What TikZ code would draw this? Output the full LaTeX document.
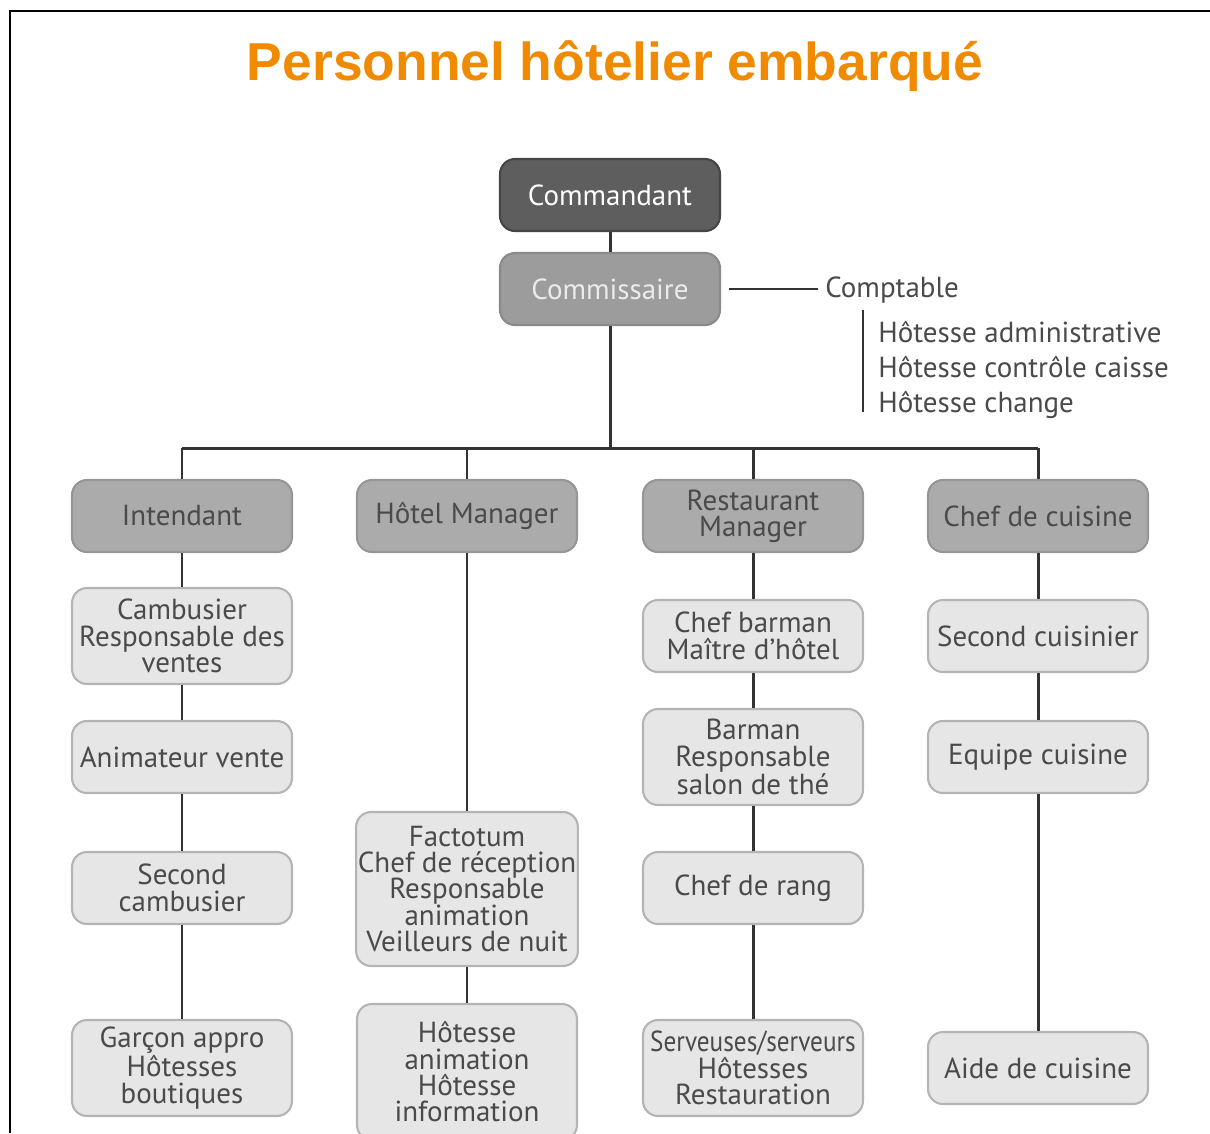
\documentclass[tikz,border=0pt]{standalone}
\usepackage{fontspec}
\usepackage{graphicx}
\usepackage{tikz}
\usetikzlibrary{positioning}
\newfontfamily\boxfont{PT Sans}
\newfontfamily\titlefont{Liberation Sans}
\definecolor{orgtitle}{HTML}{F08A00}
\definecolor{darkbox}{HTML}{5E5E5E}
\definecolor{darkrim}{HTML}{454545}
\definecolor{midbox}{HTML}{9C9C9C}
\definecolor{midrim}{HTML}{8A8A8A}
\definecolor{headbox}{HTML}{ABABAB}
\definecolor{headrim}{HTML}{969696}
\definecolor{lightbox}{HTML}{E6E6E6}
\definecolor{lightrim}{HTML}{B4B4B4}
\definecolor{boxtext}{HTML}{4A4A4A}
\definecolor{linkgray}{HTML}{333333}

\begin{document}
\begin{tikzpicture}[
  x=0.02cm, y=-0.02cm,
  every node/.style={font=\boxfont\fontsize{16.5}{15}\selectfont},
  role/.style={rounded corners=3mm,line width=1.2pt,minimum width=4.4cm,
    minimum height=1.44cm,align=center,inner sep=1pt},
  topbox/.style={role,draw=darkrim,fill=darkbox,text=white},
  subbox/.style={role,draw=midrim,fill=midbox,text=white!92!black},
  headbox/.style={role,draw=headrim,fill=headbox,text=boxtext},
  staffbox/.style={role,draw=lightrim,fill=lightbox,text=boxtext},
  link/.style={draw=linkgray,line width=1.7pt}
]
\useasboundingbox (0,0) rectangle (1210,1133);
\draw[line width=1.4pt] (10,1133) -- (10,11) -- (1210,11);

\node[font=\titlefont\bfseries\fontsize{30.4}{32}\selectfont,text=orgtitle] (title) at (615,66) {Personnel hôtelier embarqué};

% direction
\node[topbox] (cmdt) at (610,195) {Commandant};
\node[subbox] (commis) at (610,289) {Commissaire};
\draw[link] (cmdt) -- (commis);

% comptabilite
\node[anchor=base west,text=boxtext,inner sep=4pt] (compt) at (818,297) {Comptable};
\draw[link,line width=1.5pt] ([xshift=8*0.02cm]commis.east) -- (compt.west |- commis.east);
\coordinate (barT) at (863,310);
\coordinate (barB) at (863,412);
\draw[link,line width=1.5pt] (barT) -- (barB);
\node[anchor=west,align=left,text=boxtext,inner sep=0pt,
  font=\boxfont\fontsize{16.5}{19.8}\selectfont] (hotadm) at (878,370)
  {Hôtesse administrative\\Hôtesse contrôle caisse\\Hôtesse change};

% chefs de service
\node[headbox] (intd) at (182,516) {Intendant};
\node[headbox] (hotm) at (467,516) {Hôtel Manager};
\node[headbox] (restm) at (753,516) {Restaurant\\Manager};
\node[headbox] (chefc) at (1038,516) {Chef de cuisine};

\coordinate (busL) at (182,448);
\coordinate (busR) at (1038,448);
\draw[link] (commis) -- (commis |- busL);
\draw[link] (busL) -- (busR);
\foreach \n in {intd,hotm,restm,chefc}
  \draw[link] (\n.north) -- (\n.north |- busL);

% intendance
\node[staffbox,minimum height=1.92cm] (camb) at (182,636) {Cambusier\\Responsable des\\ventes};
\node[staffbox] (anim) at (182,757) {Animateur vente};
\node[staffbox] (scamb) at (182,888) {Second\\cambusier};
\node[staffbox,minimum height=1.92cm] (garc) at (182,1068) {Garçon appro\\Hôtesses\\boutiques};
\draw[link] (intd) -- (camb);
\draw[link] (camb) -- (anim);
\draw[link] (anim) -- (scamb);
\draw[link] (scamb) -- (garc);

% hotel
\node[staffbox,minimum height=3.08cm] (fact) at (467,889) {Factotum\\Chef de réception\\Responsable\\animation\\Veilleurs de nuit};
\node[staffbox,minimum height=2.72cm] (hotan) at (467,1072) {Hôtesse\\animation\\Hôtesse\\information};
\draw[link] (hotm) -- (fact);
\draw[link] (fact) -- (hotan);

% restaurant
\node[staffbox] (barm) at (753,636) {Chef barman\\Maître d’hôtel};
\node[staffbox,minimum height=1.92cm] (barr) at (753,757) {Barman\\Responsable\\salon de thé};
\node[staffbox] (rang) at (753,888) {Chef de rang};
\node[staffbox,minimum height=1.92cm] (serv) at (753,1068) {\scalebox{0.87}[1]{Serveuses/serveurs}\\Hôtesses\\Restauration};
\draw[link] (restm) -- (barm);
\draw[link] (barm) -- (barr);
\draw[link] (barr) -- (rang);
\draw[link] (rang) -- (serv);

% cuisine
\node[staffbox] (scuis) at (1038,636) {Second cuisinier};
\node[staffbox] (equip) at (1038,757) {Equipe cuisine};
\node[staffbox] (aide) at (1038,1068) {Aide de cuisine};
\draw[link] (chefc) -- (scuis);
\draw[link] (scuis) -- (equip);
\draw[link] (equip) -- (aide);
\end{tikzpicture}
\end{document}
